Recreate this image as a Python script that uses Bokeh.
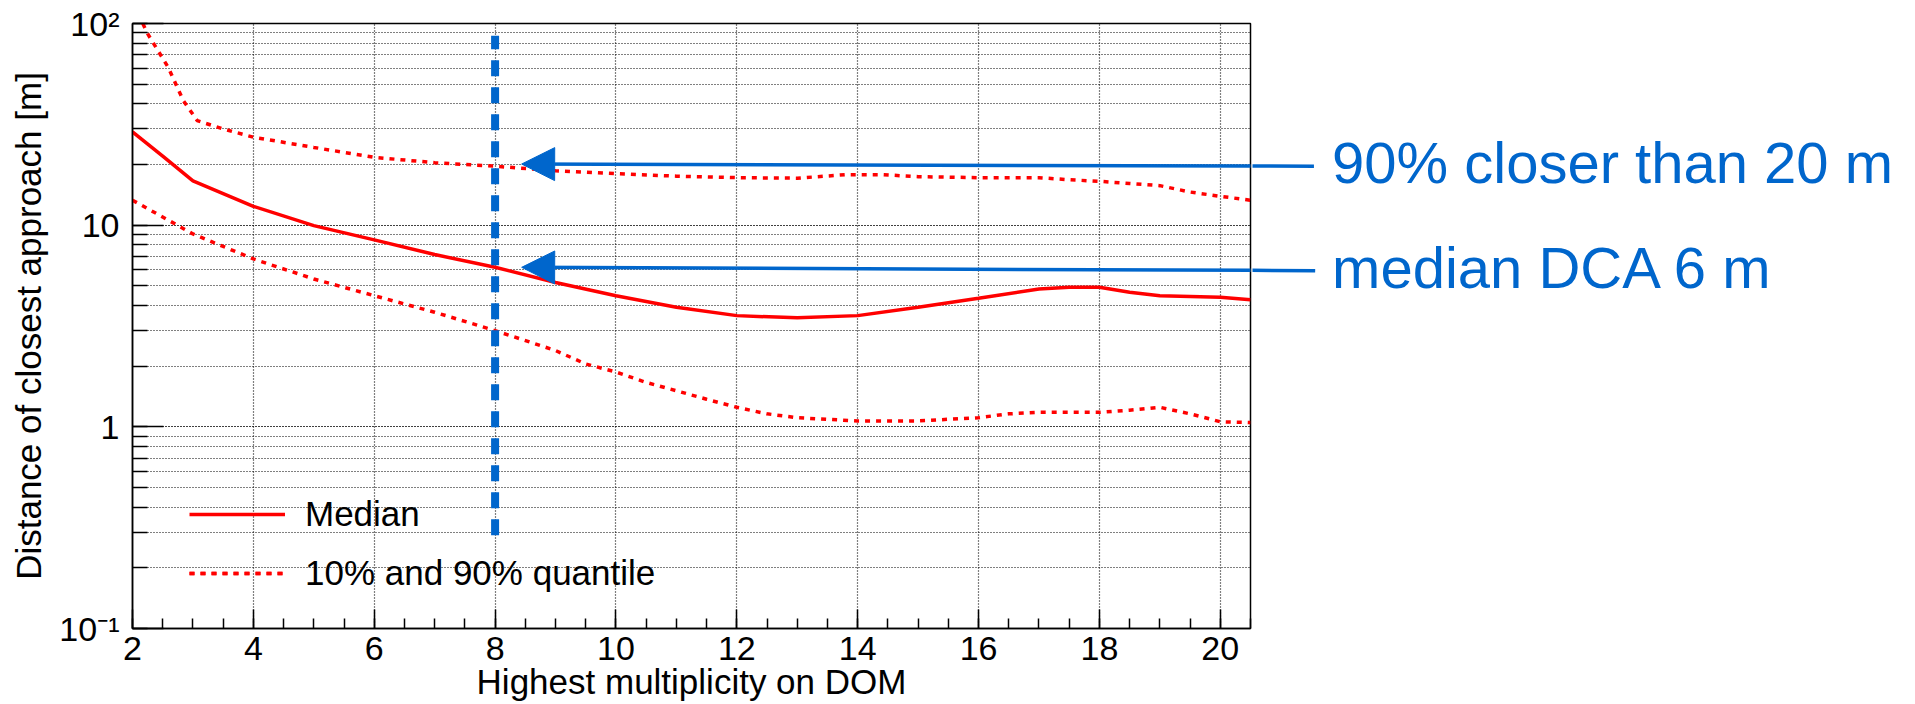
from bokeh.plotting import figure
from bokeh.layouts import row
from bokeh.models import (Range1d, SingleIntervalTicker, LogTicker, Legend, LegendItem,
                          Arrow, NormalHead, Label)
from bokeh.embed import file_html
from bokeh.resources import INLINE

# ---- data ----
x_median = [2, 2.5, 3, 4, 5, 6, 7, 8, 9, 10, 11, 12, 13, 14, 15, 16, 17, 17.5, 18, 18.5, 19, 20, 20.5]
median = [29, 22.0, 16.6, 12.4, 9.95, 8.45, 7.15, 6.18, 5.2, 4.47, 3.92, 3.56, 3.47, 3.56, 3.92,
          4.34, 4.83, 4.92, 4.92, 4.65, 4.47, 4.39, 4.27]

x_q90 = [2.17, 2.25, 2.59, 2.84, 3.07, 3.5, 4, 5, 6, 7, 8, 9, 10, 11, 12, 13, 13.8, 14.4, 15, 16,
         17, 17.5, 18, 18.5, 19, 19.5, 20, 20.5]
q90 = [100, 89, 60.7, 41.5, 33, 30, 27.3, 24.3, 21.7, 20.4, 19.6, 18.6, 18.0, 17.5, 17.2, 17.1,
       17.8, 17.8, 17.4, 17.2, 17.2, 16.8, 16.5, 16.1, 15.7, 14.6, 13.9, 13.3]

x_q10 = [2, 3, 4, 5, 6, 7, 8, 9, 9.5, 10, 10.5, 11, 11.5, 12, 12.5, 13, 14, 15, 16, 16.5, 17, 18,
         18.5, 19, 19.5, 20, 20.5]
q10 = [13.3, 9.05, 6.8, 5.41, 4.47, 3.70, 3.0, 2.39, 2.05, 1.87, 1.66, 1.51, 1.37, 1.25, 1.16, 1.11,
       1.07, 1.07, 1.11, 1.16, 1.18, 1.18, 1.21, 1.25, 1.16, 1.06, 1.05]

cut_x = [8, 8]
cut_y = [0.29, 87]

y_tick_labels = {0.1: "10\u207b\u00b9", 1: "1", 10: "10", 100: "10\u00b2"}

legend_labels = ["Median", "10% and 90% quantile"]
note_q90 = "90% closer than 20 m"
note_median = "median DCA 6 m"

FONT = "Liberation Sans"
BLUE = "#0066CC"
RED = "#FF0000"

X0, X1 = 2, 20.5
FRAME_W, FRAME_H = 1118, 605
PX_PER_X = FRAME_W / (X1 - X0)
LEFT, TOP, BOTTOM = 132, 23, 76
GAP = 2
SIDE_W = 1912 - LEFT - FRAME_W - GAP

p = figure(frame_width=FRAME_W, frame_height=FRAME_H,
           min_border_left=LEFT, min_border_right=GAP, min_border_top=TOP, min_border_bottom=BOTTOM,
           x_range=Range1d(X0, X1), y_range=Range1d(0.1, 100), y_axis_type="log",
           output_backend="svg", toolbar_location=None)

p.background_fill_color = "white"
p.border_fill_color = "white"
p.outline_line_color = "black"
p.outline_line_width = 1.5

# axes
p.xaxis.ticker = SingleIntervalTicker(interval=2, num_minor_ticks=4)
p.yaxis.ticker = LogTicker(num_minor_ticks=10)
p.yaxis.major_label_overrides = y_tick_labels

for ax in (p.xaxis[0], p.yaxis[0]):
    ax.axis_line_color = "black"
    ax.axis_line_width = 1.5
    ax.major_tick_line_color = "black"
    ax.minor_tick_line_color = "black"
    ax.major_tick_line_width = 1.5
    ax.minor_tick_line_width = 1.5
    ax.major_tick_out = 0
    ax.minor_tick_out = 0
    ax.major_label_text_font = FONT
    ax.major_label_text_font_size = "34px"
    ax.major_label_text_color = "black"
    ax.axis_label_text_font = FONT
    ax.axis_label_text_font_size = "35px"
    ax.axis_label_text_font_style = "normal"
    ax.axis_label_text_color = "black"

p.xaxis.major_tick_in = 19
p.xaxis.minor_tick_in = 10
p.yaxis.major_tick_in = 31
p.yaxis.minor_tick_in = 15
p.xaxis.major_label_standoff = 8
p.yaxis.major_label_standoff = 13
p.xaxis.axis_label_standoff = -1
p.yaxis.axis_label_standoff = 8
p.xaxis.axis_label = "Highest multiplicity on DOM"
p.yaxis.axis_label = "Distance of closest approach [m]"

# grids
for g in (p.xgrid[0], p.ygrid[0]):
    g.grid_line_color = "black"
    g.grid_line_dash = "1 2"
    g.grid_line_width = 1.2
p.ygrid.minor_grid_line_color = "black"
p.ygrid.minor_grid_line_dash = "1 2"
p.ygrid.minor_grid_line_width = 1.2

# curves
r_med = p.line(x_median, median, line_color=RED, line_width=3.5)
r_hi = p.line(x_q90, q90, line_color=RED, line_width=3.5, line_dash="5 6")
r_lo = p.line(x_q10, q10, line_color=RED, line_width=3.5, line_dash="5 6")

# cut line at multiplicity 8
p.line(cut_x, cut_y, line_color=BLUE, line_width=8, line_dash="16 11", line_cap="butt")

legend = Legend(items=[LegendItem(label=legend_labels[0], renderers=[r_med]),
                       LegendItem(label=legend_labels[1], renderers=[r_hi, r_lo])],
                location=(57, 34), padding=0, margin=0, spacing=17,
                glyph_width=96, glyph_height=42, label_height=42, label_standoff=20,
                label_text_font=FONT, label_text_font_size="35px", label_text_color="black",
                background_fill_alpha=0, border_line_alpha=0)
p.add_layout(legend, "center")

# arrows (main frame part, with heads)
arrow_q90 = dict(x_start=21.55, y_start=19.6, x_end=8.44, y_end=20.1)
arrow_med = dict(x_start=21.57, y_start=5.95, x_end=8.44, y_end=6.18)
p.add_layout(Arrow(end=NormalHead(size=33, fill_color=BLUE, line_color=BLUE),
                   line_color=BLUE, line_width=3.5, **arrow_q90))
p.add_layout(Arrow(end=NormalHead(size=33, fill_color=BLUE, line_color=BLUE),
                   line_color=BLUE, line_width=3.5, **arrow_med))

# side panel continuing the same scales, for the annotation texts
xs0 = X1 + GAP / PX_PER_X
side = figure(frame_width=SIDE_W, frame_height=FRAME_H,
              min_border_left=0, min_border_right=0, min_border_top=TOP, min_border_bottom=BOTTOM,
              x_range=Range1d(xs0, xs0 + SIDE_W / PX_PER_X), y_range=Range1d(0.1, 100),
              y_axis_type="log", x_axis_location=None, y_axis_location=None,
              output_backend="svg", toolbar_location=None)
side.outline_line_color = None
side.grid.visible = False
side.background_fill_color = "white"
side.border_fill_color = "white"
side.add_layout(Arrow(end=None, line_color=BLUE, line_width=3.5, **arrow_q90))
side.add_layout(Arrow(end=None, line_color=BLUE, line_width=3.5, **arrow_med))
side.add_layout(Label(x=21.85, y=20.5, text=note_q90, text_font=FONT, text_font_size="58px",
                      text_color=BLUE, text_baseline="alphabetic"))
side.add_layout(Label(x=21.85, y=6.2, text=note_median, text_font=FONT, text_font_size="58px",
                      text_color=BLUE, text_baseline="alphabetic"))

layout = row(p, side, spacing=0)
open("out.html", "w").write(file_html(layout, INLINE))
